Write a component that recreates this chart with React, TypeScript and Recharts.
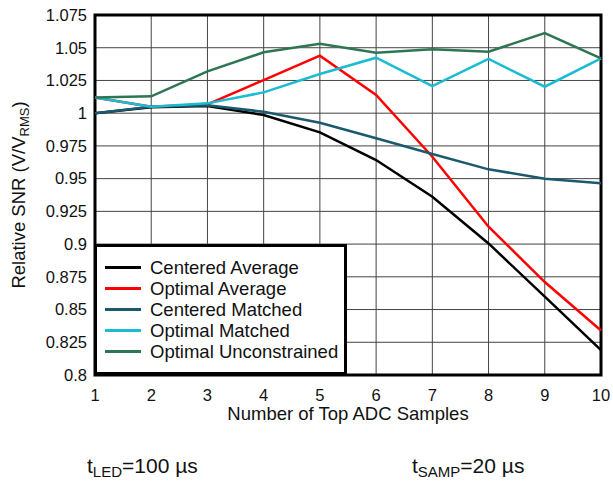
import { LineChart, Line, XAxis, YAxis, CartesianGrid, ReferenceArea, Label } from 'recharts'

const samples = [1, 2, 3, 4, 5, 6, 7, 8, 9, 10]
const centeredAverage = [1.0, 1.0045, 1.0055, 0.9986, 0.9854, 0.9642, 0.9362, 0.9005, 0.8598, 0.819]
const optimalAverage = [1.012, 1.005, 1.0068, 1.0253, 1.0439, 1.0139, 0.9667, 0.9133, 0.871, 0.834]
const centeredMatched = [1.0, 1.005, 1.006, 1.0011, 0.9927, 0.9808, 0.9688, 0.9571, 0.95, 0.9464]
const optimalMatched = [1.012, 1.005, 1.0075, 1.0159, 1.0299, 1.0424, 1.0207, 1.0414, 1.0202, 1.0419]
const optimalUnconstrained = [1.012, 1.0129, 1.032, 1.0465, 1.053, 1.0462, 1.0488, 1.047, 1.0612, 1.0419]
const yTicks = [0.8, 0.825, 0.85, 0.875, 0.9, 0.925, 0.95, 0.975, 1, 1.025, 1.05, 1.075]

const FONT = '"Liberation Sans", Arial, Helvetica, sans-serif'

const SERIES = [
  { key: 'ca', name: 'Centered Average', color: '#000000' },
  { key: 'oa', name: 'Optimal Average', color: '#ff0000' },
  { key: 'cm', name: 'Centered Matched', color: '#1b5a6c' },
  { key: 'om', name: 'Optimal Matched', color: '#1bbcd2' },
  { key: 'ou', name: 'Optimal Unconstrained', color: '#2e7554' },
]

const data = samples.map((n, i) => ({
  n,
  ca: centeredAverage[i],
  oa: optimalAverage[i],
  cm: centeredMatched[i],
  om: optimalMatched[i],
  ou: optimalUnconstrained[i],
}))

// legend sits over the bottom-left corner of the plot
function LegendBox() {
  return (
    <div
      style={{
        position: 'absolute',
        left: 94,
        top: 244,
        width: 253,
        height: 131,
        boxSizing: 'border-box',
        border: '3px solid #000',
        background: '#fff',
        padding: '10px 0 0 8px',
        fontFamily: FONT,
        fontSize: 18.5,
        color: '#111',
      }}
    >
      {SERIES.map((s) => (
        <div key={s.key} style={{ display: 'flex', alignItems: 'center', height: 21, whiteSpace: 'nowrap' }}>
          <span style={{ width: 36, height: 3, background: s.color, marginRight: 9, flex: 'none' }} />
          <span>{s.name}</span>
        </div>
      ))}
    </div>
  )
}

function YTitle({ viewBox }: any) {
  const cy = viewBox.y + viewBox.height / 2
  const cx = 25
  return (
    <text x={cx} y={cy} transform={`rotate(-90 ${cx} ${cy})`} textAnchor="middle" fontFamily={FONT} fontSize={18.5} fill="#111">
      Relative SNR (V/V
      <tspan fontSize={13} dy={4}>RMS</tspan>
      <tspan dy={-4}>)</tspan>
    </text>
  )
}

export default function App() {
  const order = ['ca', 'oa', 'cm', 'om', 'ou']
  return (
    <div style={{ position: 'fixed', left: 0, top: 0, width: 613, height: 485, background: '#fff' }}>
      <LineChart width={613} height={485} data={data} margin={{ top: 15, right: 12, bottom: 80, left: 0 }}>
        <CartesianGrid stroke="#444" strokeWidth={1} horizontalValues={yTicks} verticalValues={samples} />
        <XAxis
          dataKey="n"
          type="number"
          domain={[1, 10]}
          ticks={samples}
          height={30}
          tickLine={false}
          axisLine={false}
          tickMargin={8}
          tick={{ fill: '#111', fontSize: 16.5, fontFamily: FONT }}
        >
          <Label value="Number of Top ADC Samples" position="insideBottom" offset={-15} fill="#111" fontSize={18.5} fontFamily={FONT} />
        </XAxis>
        <YAxis
          type="number"
          domain={[0.8, 1.075]}
          ticks={yTicks}
          width={95}
          tickLine={false}
          axisLine={false}
          interval={0}
          tick={{ fill: '#111', fontSize: 16.5, fontFamily: FONT }}
        >
          <Label content={<YTitle />} />
        </YAxis>
        {order.map((k) => {
          const s = SERIES.find((x) => x.key === k)!
          return (
            <Line
              key={k}
              dataKey={k}
              name={s.name}
              stroke={s.color}
              strokeWidth={2.5}
              dot={false}
              activeDot={false}
              isAnimationActive={false}
            />
          )
        })}
        <ReferenceArea x1={1} x2={10} y1={0.8} y2={1.075} fill="none" stroke="#000" strokeWidth={3} ifOverflow="visible" />
      </LineChart>
      <LegendBox />
      <svg width={613} height={485} style={{ position: 'absolute', left: 0, top: 0, pointerEvents: 'none' }}>
        <text x={87} y={473} fontFamily={FONT} fontSize={21} fill="#111">
          t<tspan fontSize={15} dy={4}>LED</tspan>
          <tspan dy={-4}>=100 µs</tspan>
        </text>
        <text x={412} y={473} fontFamily={FONT} fontSize={21} fill="#111">
          t<tspan fontSize={15} dy={4}>SAMP</tspan>
          <tspan dy={-4}>=20 µs</tspan>
        </text>
      </svg>
    </div>
  )
}
